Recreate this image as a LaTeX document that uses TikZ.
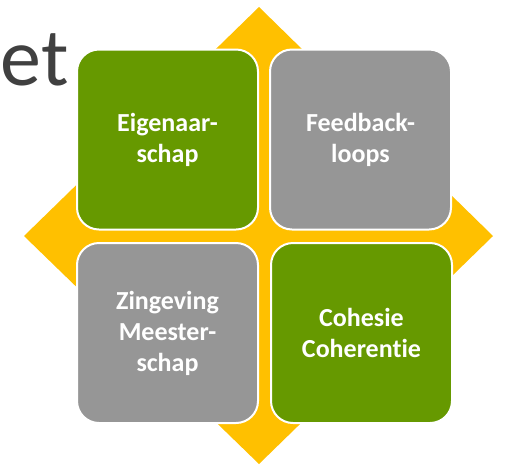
\documentclass[tikz,border=0pt]{standalone}
\usepackage{fontspec}
\setmainfont{Carlito}[Ligatures={NoCommon}]
\definecolor{dgreen}{HTML}{669900}
\definecolor{mgray}{HTML}{969696}
\definecolor{gold}{HTML}{FFC000}
\definecolor{dtext}{HTML}{404040}
\begin{document}
\begin{tikzpicture}[x=1pt,y=-1pt,
  tile/.style={rectangle, minimum width=181pt, minimum height=180pt, rounded corners=22pt,
    draw=white, line width=2pt, text=white, align=center,
    font=\fontsize{26}{31}\selectfont\bfseries, inner sep=0pt}]
\useasboundingbox (0,0) rectangle (505,464);
\fill[gold] (259,7) coordinate (dt) -- (493,236) coordinate (dr) -- (259,464) coordinate (db) -- (24,236) coordinate (dl) -- cycle;
\node[anchor=base west, text=dtext, font=\fontsize{82}{90}\selectfont, inner sep=0pt] (title) at (0.5,85) {et};
\node[tile, fill=dgreen] (tl) at (167.5,139.5) {Eigenaar-\\schap};
\node[tile, fill=mgray] (tr) at (360.5,139.5) {Feedback-\\loops};
\node[tile, fill=mgray] (bl) at (167.5,333) {Zingeving\\Meester-\\schap};
\node[tile, fill=dgreen] (br) at (361.5,333) {Cohesie\\Coherentie};
\end{tikzpicture}
\end{document}
